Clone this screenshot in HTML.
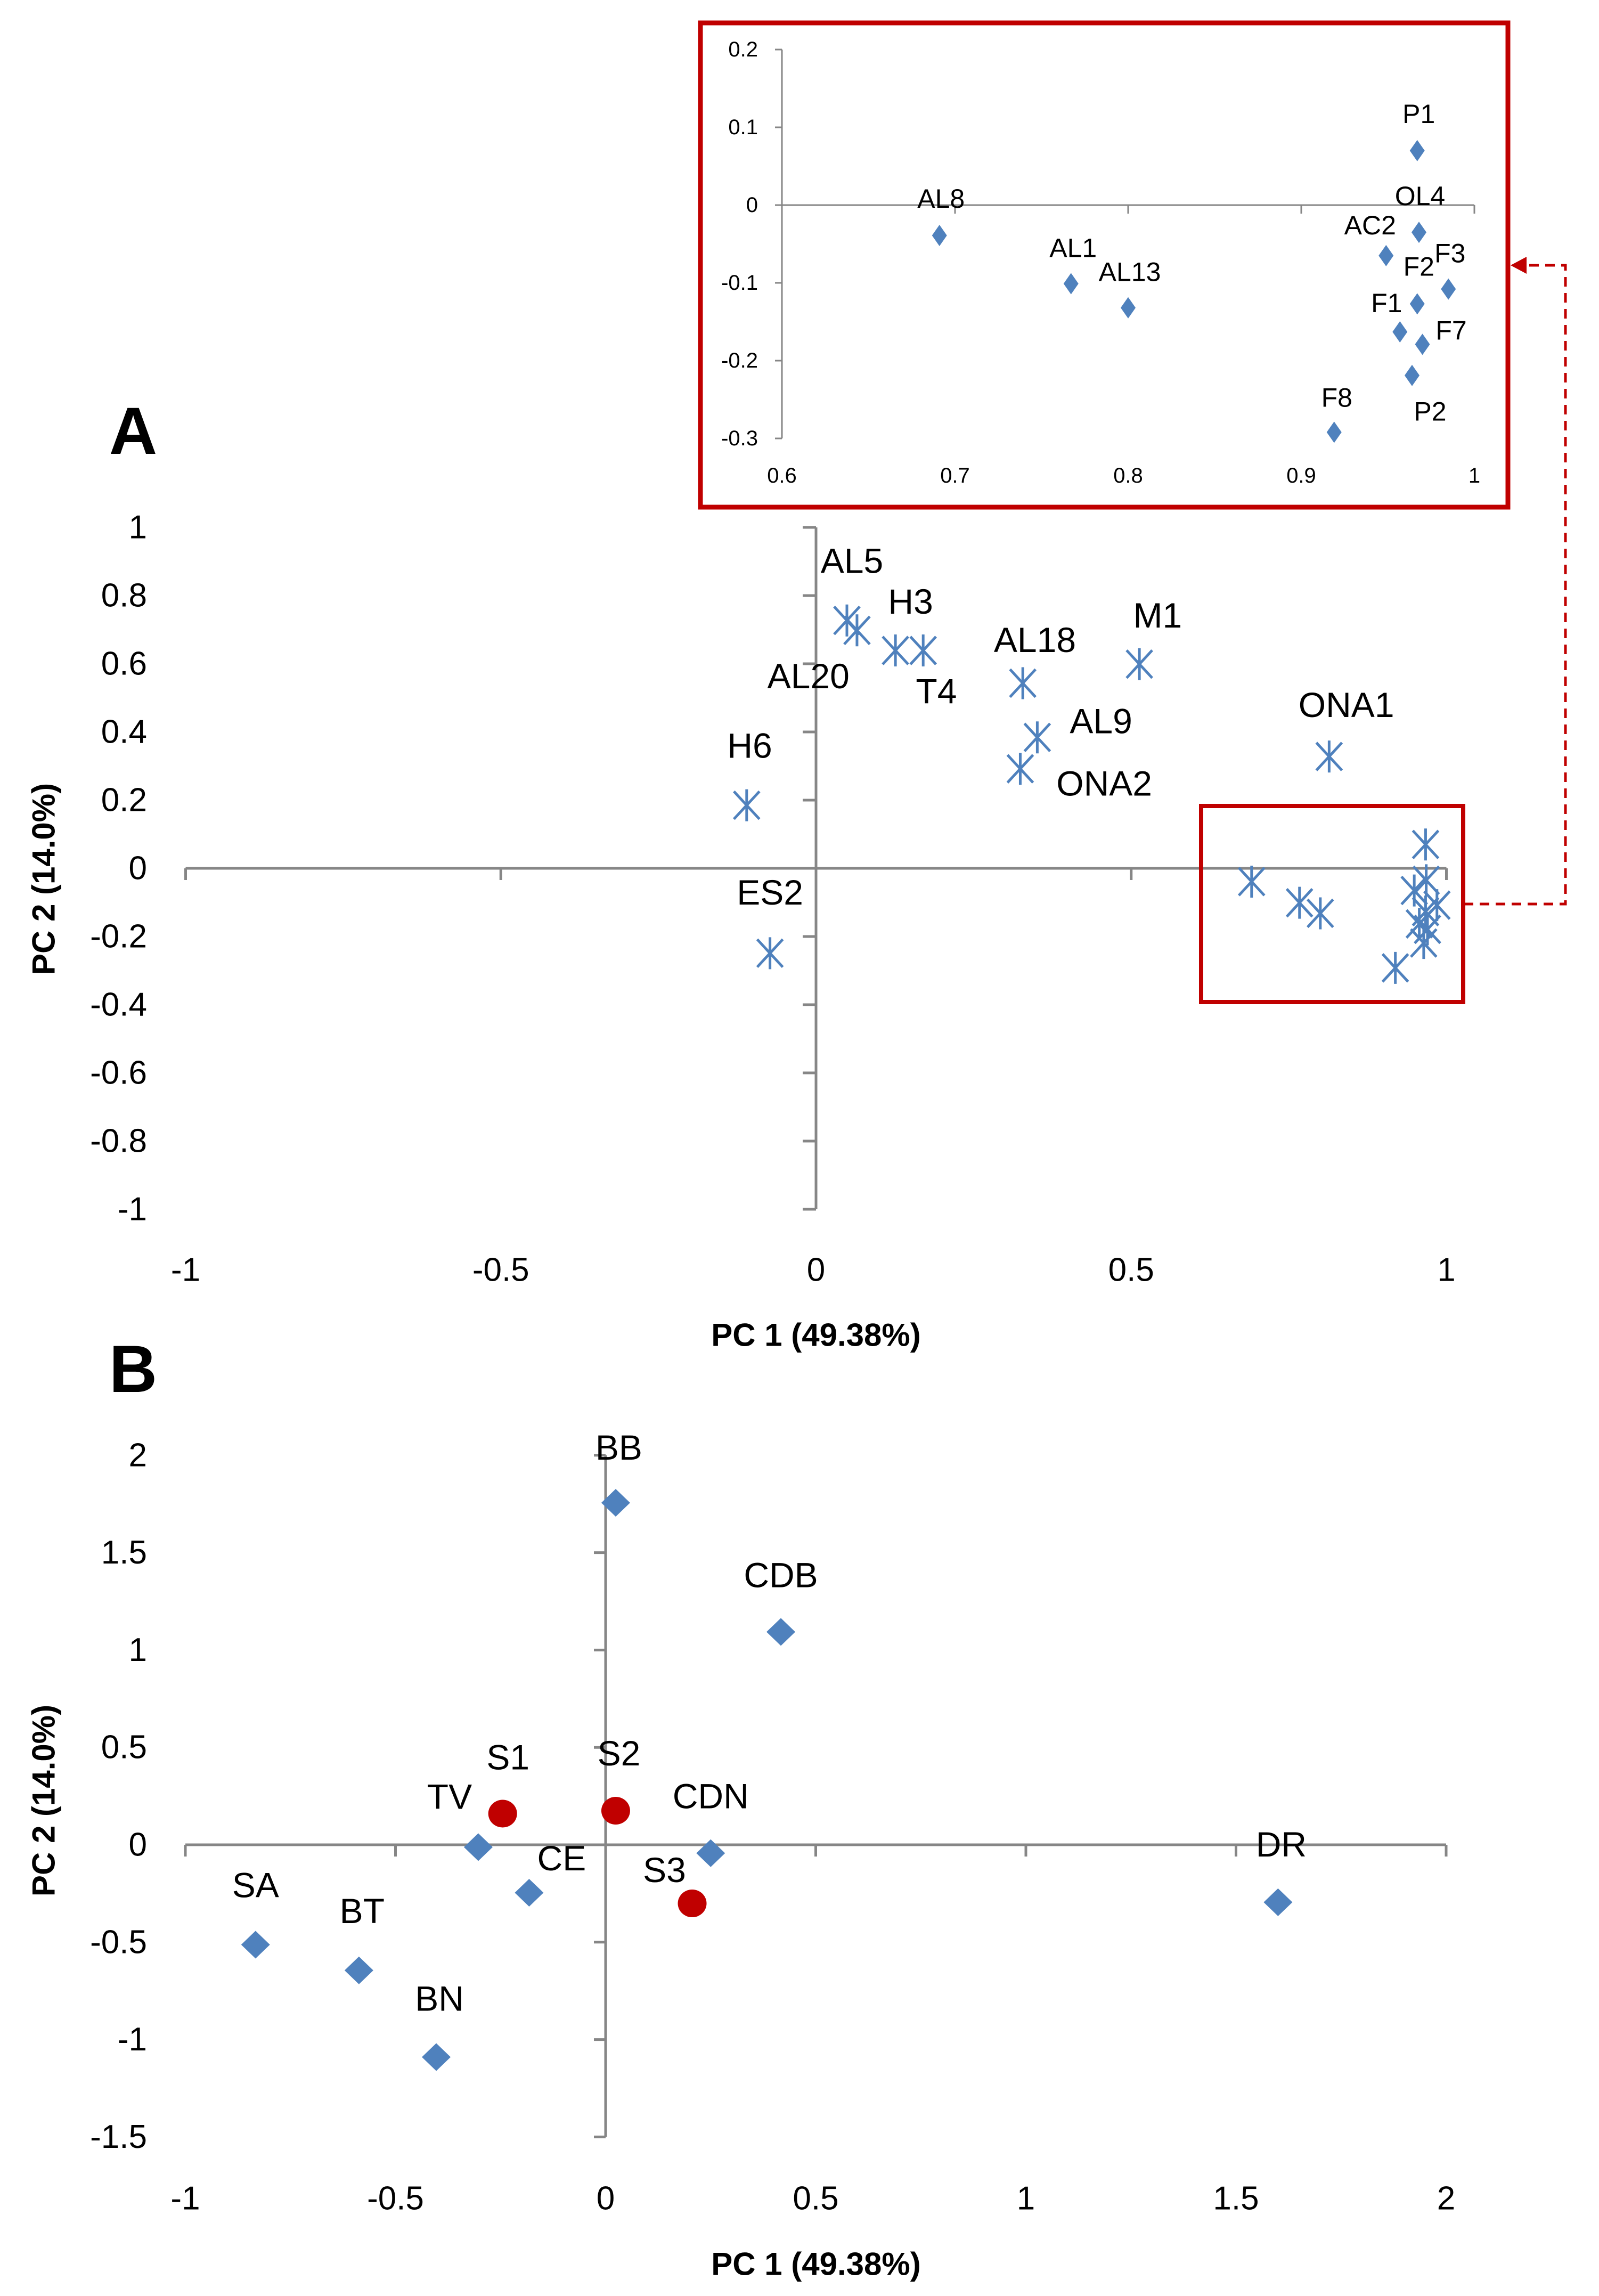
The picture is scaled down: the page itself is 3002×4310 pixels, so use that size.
<!DOCTYPE html>
<html><head><meta charset="utf-8"><style>
html,body{margin:0;padding:0;background:#fff;}
svg{display:block;}
text{font-family:"Liberation Sans Narrow","Liberation Sans",sans-serif;fill:#000;}
.bold{font-family:"Liberation Sans",sans-serif;font-weight:bold;}
</style></head><body>
<svg id="fig" width="3002" height="4310" viewBox="0 0 3002 4310" xmlns="http://www.w3.org/2000/svg">
<g id="gInset"></g>
<g id="gA"></g>
<g id="gB"></g>
<text x="250" y="852" font-size="125" class="bold" text-anchor="middle">A</text>
<text x="250" y="2613" font-size="125" class="bold" text-anchor="middle">B</text>
<rect x="1315" y="43" width="1516" height="909" fill="none" stroke="#c00000" stroke-width="9"/>
<g>
<polyline points="2748,1697 2939,1697 2939,498 2862,498" fill="none" stroke="#c00000" stroke-width="5" stroke-dasharray="18,12"/>
<polygon points="2836,498 2866,482 2866,514" fill="#c00000"/>
</g>
</svg>
<script>
// ---- Inset data ----
const insetLabels = ["AL8","AL1","AL13","P1","OL4","AC2","F3","F2","F1","F7","P2","F8"];
const insetX = [0.691,0.767,0.800,0.967,0.968,0.949,0.985,0.967,0.957,0.970,0.964,0.919];
const insetY = [-0.039,-0.101,-0.132,0.070,-0.035,-0.065,-0.108,-0.127,-0.163,-0.179,-0.219,-0.292];
const insetXTicks = [0.6,0.7,0.8,0.9,1];
const insetYTicks = [0.2,0.1,0,-0.1,-0.2,-0.3];
// ---- Chart A data ----
const aLabels = ["AL5","AL20","H3","T4","AL18","M1","AL9","ONA2","ONA1","H6","ES2"];
const aX = [0.049,0.065,0.126,0.170,0.328,0.513,0.351,0.324,0.814,-0.110,-0.073];
const aY = [0.727,0.698,0.639,0.639,0.543,0.599,0.384,0.292,0.328,0.185,-0.249];
const aXTicks = [-1,-0.5,0,0.5,1];
const aYTicks = [1,0.8,0.6,0.4,0.2,0,-0.2,-0.4,-0.6,-0.8,-1];
// ---- Chart B data ----
const bLabels = ["BB","CDB","TV","CE","CDN","DR","SA","BT","BN"];
const bX = [0.024,0.417,-0.303,-0.182,0.250,1.600,-0.833,-0.587,-0.403];
const bY = [1.756,1.093,-0.012,-0.246,-0.043,-0.295,-0.513,-0.645,-1.090];
const sLabels = ["S1","S2","S3"];
const sX = [-0.245,0.024,0.206];
const sY = [0.160,0.175,-0.301];
const bXTicks = [-1,-0.5,0,0.5,1,1.5,2];
const bYTicks = [2,1.5,1,0.5,0,-0.5,-1,-1.5];

const NS="http://www.w3.org/2000/svg";
function mk(tag,attrs,parent){const e=document.createElementNS(NS,tag);for(const k in attrs)e.setAttribute(k,attrs[k]);parent.appendChild(e);return e;}
function txt(s,x,y,size,anchor,parent){const t=mk('text',{x:x,y:y,'font-size':size,'text-anchor':anchor,'dominant-baseline':'central'},parent);t.textContent=s;return t;}
const BLUE="#4f81bd", AX="#868686";

// ---------- Inset ----------
(function(){
const g=document.getElementById('gInset');
const sx=v=>1468+(v-0.6)/0.4*1300, sy=v=>385-v/0.1*146;
let l=mk('line',{x1:sx(0.6),y1:sy(0.2),x2:sx(0.6),y2:sy(-0.3),stroke:AX,'stroke-width':3},g);


l=mk('line',{x1:sx(0.6),y1:sy(0),x2:sx(1),y2:sy(0),stroke:AX,'stroke-width':3},g);


insetYTicks.forEach(v=>{mk('line',{x1:sx(0.6)-13,y1:sy(v),x2:sx(0.6),y2:sy(v),stroke:AX,'stroke-width':3},g);
 const t=txt(String(v),1423,sy(v),40,'end',g);
 
 });
insetXTicks.forEach(v=>{if(v>0.6)mk('line',{x1:sx(v),y1:sy(0),x2:sx(v),y2:sy(0)+16,stroke:AX,'stroke-width':3},g);
 const t=txt(String(v),sx(v),893,40,'middle',g);
 
 });
const off=[[3,-69],[4,-67],[3,-67],[3,-69],[2,-68],[-30,-57],[3,-67],[3,-70],[-25,-54],[54,-26],[34,68],[5,-65]];
insetX.forEach((v,i)=>{const x=sx(v),y=sy(insetY[i]);
 const p=mk('polygon',{points:`${x},${y-20} ${x+14},${y} ${x},${y+20} ${x-14},${y}`,fill:BLUE},g);
 
 
 const t=txt(insetLabels[i],x+off[i][0],y+off[i][1],50,'middle',g);
 
 });
})();

// ---------- Chart A ----------
(function(){
const g=document.getElementById('gA');
const sx=v=>1532+v*1183.5, sy=v=>1630-v*640;
let l=mk('line',{x1:sx(0),y1:sy(1),x2:sx(0),y2:sy(-1),stroke:AX,'stroke-width':5},g);


l=mk('line',{x1:sx(-1),y1:sy(0),x2:sx(1),y2:sy(0),stroke:AX,'stroke-width':5},g);


aYTicks.forEach(v=>{mk('line',{x1:sx(0)-25,y1:sy(v),x2:sx(0),y2:sy(v),stroke:AX,'stroke-width':5},g);
 const t=txt(String(v),276,sy(v),62,'end',g);
 
 });
aXTicks.forEach(v=>{mk('line',{x1:sx(v),y1:sy(0),x2:sx(v),y2:sy(0)+22,stroke:AX,'stroke-width':5},g);
 const t=txt(String(v),sx(v),2384,62,'middle',g);
 
 });
let t=txt('PC 1 (49.38%)',1532,2506,60,'middle',g);t.setAttribute('class','bold');


t=txt('PC 2 (14.0%)',0,0,60,'middle',g);t.setAttribute('class','bold');t.setAttribute('transform','translate(82,1650) rotate(-90)');


function star(x,y,name){const s=mk('g',{stroke:BLUE,'stroke-width':5,fill:'none'},g);
 mk('line',{x1:x,y1:y-30,x2:x,y2:y+30},s);
 mk('line',{x1:x-24,y1:y-26,x2:x+24,y2:y+26},s);
 mk('line',{x1:x-24,y1:y+26,x2:x+24,y2:y-26},s);
 
 }
const off=[[5,-110],[-48,84],[15,-90],[13,75],[12,-80],[18,-90],[63,-30],[83,27],[17,-95],[3,-110],[0,-112]];
aX.forEach((v,i)=>{const x=sx(v),y=sy(aY[i]);star(x,y,'a-point-'+aLabels[i].toLowerCase());
 const tt=txt(aLabels[i],x+off[i][0]*1.9,y+off[i][1]*1.02,66,'middle',g);
 
 });
insetX.forEach((v,i)=>star(sx(v),sy(insetY[i]),'a-cluster-point-'+insetLabels[i].toLowerCase()));
const r=mk('rect',{x:2255,y:1513,width:492,height:368,fill:'none',stroke:'#c00000','stroke-width':8},g);


})();

// ---------- Chart B ----------
(function(){
const g=document.getElementById('gB');
const sx=v=>1137+v*789, sy=v=>3463-v*365.6;
let l=mk('line',{x1:sx(0),y1:sy(2),x2:sx(0),y2:sy(-1.5),stroke:AX,'stroke-width':5},g);


l=mk('line',{x1:sx(-1),y1:sy(0),x2:sx(2),y2:sy(0),stroke:AX,'stroke-width':5},g);


bYTicks.forEach(v=>{mk('line',{x1:sx(0)-22,y1:sy(v),x2:sx(0),y2:sy(v),stroke:AX,'stroke-width':5},g);
 const t=txt(String(v),276,sy(v),62,'end',g);
 
 });
bXTicks.forEach(v=>{mk('line',{x1:sx(v),y1:sy(0),x2:sx(v),y2:sy(0)+22,stroke:AX,'stroke-width':5},g);
 const t=txt(String(v),sx(v),4127,62,'middle',g);
 
 });
let t=txt('PC 1 (49.38%)',1532,4250,60,'middle',g);t.setAttribute('class','bold');


t=txt('PC 2 (14.0%)',0,0,60,'middle',g);t.setAttribute('class','bold');t.setAttribute('transform','translate(82,3380) rotate(-90)');


const off=[[6,-104],[0,-107],[-54,-95],[61,-65],[0,-107],[6,-109],[0,-112],[6,-112],[6,-110]];
bX.forEach((v,i)=>{const x=sx(v),y=sy(bY[i]);
 const p=mk('polygon',{points:`${x},${y-26} ${x+27},${y} ${x},${y+26} ${x-27},${y}`,fill:BLUE},g);
 
 
 const tt=txt(bLabels[i],x+off[i][0],y+off[i][1],66,'middle',g);
 
 });
const soff=[[10,-106],[6,-108],[-52,-63]];
sX.forEach((v,i)=>{const x=sx(v),y=sy(sY[i]);
 const c=mk('ellipse',{cx:x,cy:y,rx:27,ry:26,fill:'#c00000'},g);
 
 
 const tt=txt(sLabels[i],x+soff[i][0],y+soff[i][1],66,'middle',g);
 
 });
})();
</script>
</body></html>
